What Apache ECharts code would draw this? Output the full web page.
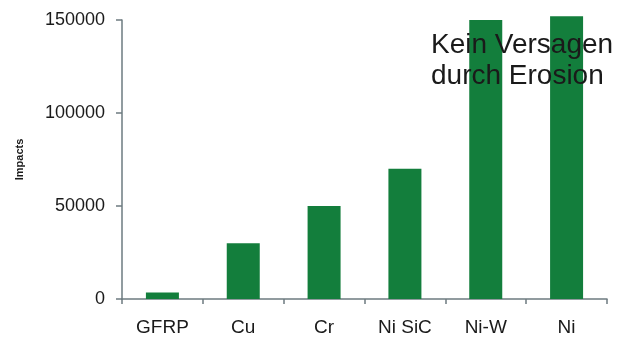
<!DOCTYPE html>
<html>
<head>
<meta charset="utf-8">
<script src="https://cdn.jsdelivr.net/npm/echarts@6/dist/echarts.min.js"></script>
<style>
  html, body { margin: 0; padding: 0; background: #fff; }
  #chart { width: 632px; height: 338px; }
</style>
</head>
<body>
<div id="chart"></div>
<script>
// Materials tested and the number of impacts each one withstood
const materials = ['GFRP', 'Cu', 'Cr', 'Ni SiC', 'Ni-W', 'Ni'];
const impacts = [3500, 30000, 50000, 70000, 150000, 152000];
const yTicks = [0, 50000, 100000, 150000];
const noteLines = ['Kein Versagen', 'durch Erosion'];

const axisColor = '#6d7b80';
const font = '"Liberation Sans", Arial, sans-serif';

const chart = echarts.init(document.getElementById('chart'), null, { renderer: 'canvas' });
chart.setOption({
  animation: false,
  backgroundColor: '#ffffff',
  grid: { left: 122, right: 25, top: 20, bottom: 39 },
  xAxis: {
    type: 'category',
    data: materials,
    axisLine: { lineStyle: { color: axisColor, width: 1.5 } },
    axisTick: { show: true, length: 5, lineStyle: { color: axisColor, width: 1.5 } },
    axisLabel: { color: '#1a1a1a', fontSize: 19, fontFamily: font, margin: 19 }
  },
  yAxis: {
    type: 'value',
    min: yTicks[0],
    max: yTicks[yTicks.length - 1],
    interval: yTicks[1] - yTicks[0],
    name: 'Impacts',
    nameLocation: 'middle',
    nameRotate: 90,
    nameGap: 97,
    nameTextStyle: { color: '#1a1a1a', fontSize: 11, fontWeight: 'bold', fontFamily: font },
    axisLine: { show: true, lineStyle: { color: axisColor, width: 1.5 } },
    axisTick: { show: true, length: 6, lineStyle: { color: axisColor, width: 1.5 } },
    axisLabel: {
      color: '#1a1a1a',
      fontSize: 18,
      fontFamily: font,
      margin: 17,
      formatter: (v) => String(v)
    },
    splitLine: { show: false }
  },
  series: [{
    type: 'bar',
    data: impacts,
    barWidth: 33,
    clip: false,
    itemStyle: { color: '#137e3c' }
  }],
  graphic: [{
    type: 'text',
    left: 431,
    top: 30,
    z: 100,
    style: {
      text: noteLines.join('\n'),
      fill: '#1a1a1a',
      font: '28px ' + font,
      lineHeight: 31
    }
  }]
});
</script>
</body>
</html>
